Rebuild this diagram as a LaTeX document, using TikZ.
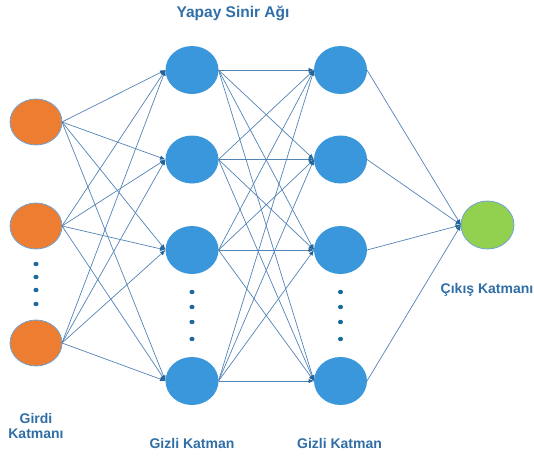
\documentclass[tikz,border=0pt]{standalone}
\usepackage{fontspec}
\setmainfont{Liberation Sans}
\usetikzlibrary{arrows.meta,shapes.geometric}
\definecolor{inorange}{HTML}{ED7D31}
\definecolor{hidblue}{HTML}{3A97DB}
\definecolor{outgreen}{HTML}{92D050}
\definecolor{rimblue}{HTML}{6FA3D6}
\definecolor{edgeblue}{HTML}{5283B5}
\definecolor{tipblue}{HTML}{24649A}
\definecolor{dotblue}{HTML}{1B6A9A}
\definecolor{labelblue}{HTML}{2F6EA6}
\tikzset{
  neuron/.style={ellipse, inner sep=0pt, outer sep=0pt, minimum width=53pt, minimum height=48pt},
  inneuron/.style={neuron, fill=inorange, draw=rimblue, line width=0.8pt, minimum width=52pt, minimum height=46pt},
  hidneuron/.style={neuron, fill=hidblue},
  outneuron/.style={neuron, fill=outgreen, draw=rimblue, line width=0.8pt},
  link/.style={draw=edgeblue, line width=0.7pt, -{Latex[length=5.5pt,width=4.5pt,color=tipblue]}},
  lbl/.style={font=\bfseries\fontsize{14}{15}\selectfont, text=labelblue, align=center, inner sep=0pt},
}
\begin{document}
\begin{tikzpicture}[x=1pt,y=-1pt]
\useasboundingbox (0,0) rectangle (534,455);

% input layer
\node[inneuron] (i1) at (36,122) {};
\node[inneuron] (i2) at (36,226) {};
\node[inneuron] (i3) at (36,343) {};

% hidden layers
\foreach \y [count=\k] in {70,159.5,250,381} {
  \node[hidneuron] (h\k) at (192,\y) {};
  \node[hidneuron] (g\k) at (340.5,\y) {};
}

% output layer
\node[outneuron] (o) at (487.5,225) {};

% connections
\foreach \a in {1,2,3} \foreach \b in {1,...,4} \draw[link] (i\a.east) -- (h\b.west);
\foreach \a in {1,...,4} \foreach \b in {1,...,4} \draw[link] (h\a.east) -- (g\b.west);
\foreach \a in {1,...,4} \draw[link] (g\a.east) -- (o.west);

% ellipsis dots
\foreach \y in {264,277,290,304} \fill[dotblue] (36,\y) ellipse (2.6 and 2.2);
\foreach \y in {292,307,322,339} {
  \fill[dotblue] (192,\y) ellipse (2.6 and 2.2);
  \fill[dotblue] (340.5,\y) ellipse (2.6 and 2.2);
}

% labels
\node[lbl, font=\bfseries\fontsize{15.5}{17}\selectfont] (title) at (233,13) {Yapay Sinir Ağı};
\node[lbl] (lin) at (36,426) {Girdi\\Katmanı};
\node[lbl] (lh1) at (192,443) {Gizli Katman};
\node[lbl] (lh2) at (339.5,443) {Gizli Katman};
\node[lbl] (lout) at (487,290) {Çıkış Katmanı};
\end{tikzpicture}
\end{document}
